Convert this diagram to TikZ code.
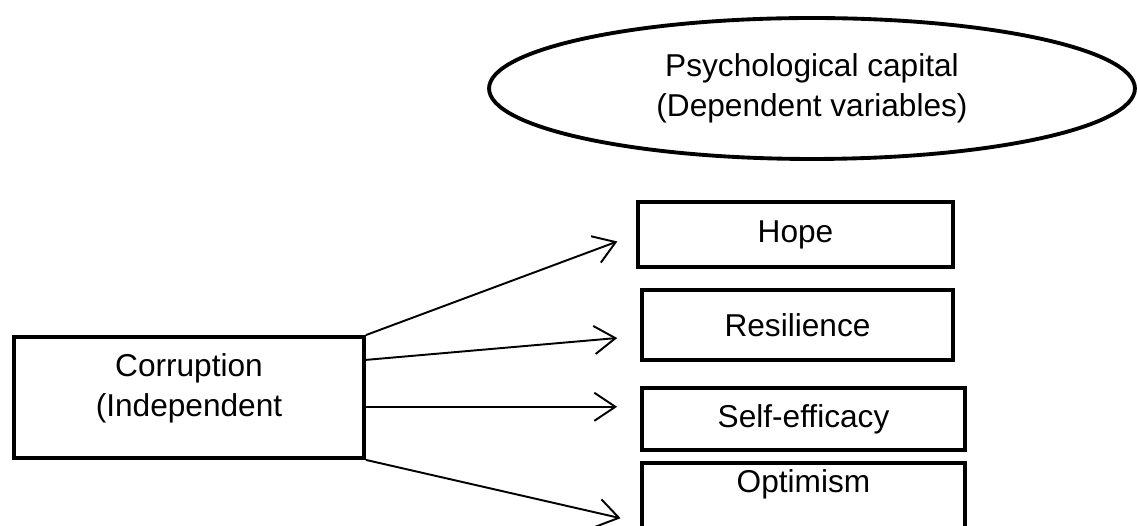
\documentclass[tikz,border=0pt]{standalone}
\usepackage{fontspec}
\setmainfont{Liberation Sans}
\usetikzlibrary{shapes.geometric, arrows.meta}

\begin{document}
\begin{tikzpicture}[
  x = 0.02cm, y = -0.02cm,
  every node/.style = {font=\fontsize{18pt}{22.7pt}\selectfont, align=center},
  varbox/.style = {draw, rectangle, line width = 2.2pt},
  capital/.style = {draw, ellipse, line width = 2.2pt, inner sep = 0pt},
  link/.style = {-{Straight Barb[length=12pt, width=16pt]}, line width = 1.1pt}
  ]
  \useasboundingbox (0,0) rectangle (1137,526);

  %dependent variables
  \node[capital, minimum width = 12.92cm, minimum height = 2.82cm] (psy) at (812,88.5)
    {Psychological capital\\(Dependent variables)};

  \node[varbox, minimum width = 6.30cm, minimum height = 1.30cm] (hope) at (795.5,234.5) {Hope};
  \node[varbox, minimum width = 6.22cm, minimum height = 1.40cm] (res) at (797.5,325) {Resilience};
  \node[varbox, minimum width = 6.46cm, minimum height = 1.24cm] (self) at (803.5,419) {Self-efficacy};
  \node[varbox, minimum width = 6.46cm, anchor = north, inner ysep = 3pt,
        text height = 14pt, text depth = 48pt] (opt) at (803.5,461) {Optimism};

  %independent variable
  \node[varbox, minimum width = 7.0cm, minimum height = 2.42cm, text depth = 14pt] (corr) at (189,397.5)
    {Corruption\\(Independent};

  %arrows
  \draw[link, shorten >= 0.4cm] (corr.north east) -- (hope.west);
  \draw[link, shorten >= 0.46cm] (corr.12) -- (res.184);
  \draw[link, shorten >= 0.46cm] (corr.357) -- (corr.357 -| self.west);
  \draw[link, shorten >= 0.4cm] (corr.south east) -- (opt.west);
\end{tikzpicture}
\end{document}
